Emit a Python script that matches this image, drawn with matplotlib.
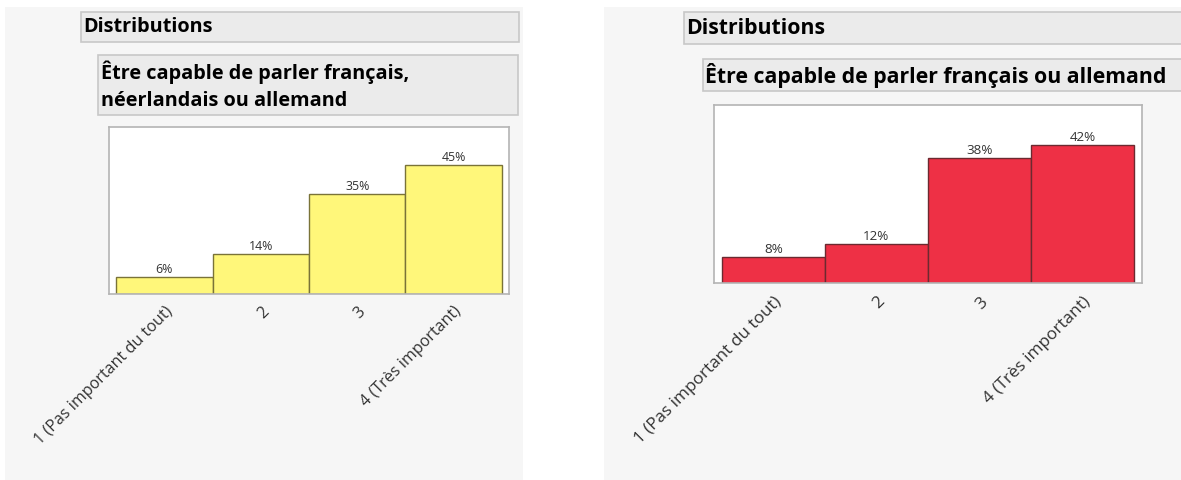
import matplotlib.pyplot as plt
from matplotlib.patches import Rectangle

plt.rcParams['font.family'] = ['Open Sans', 'DejaVu Sans']

# data
categories = ['1 (Pas important du tout)', '2', '3', '4 (Très important)']
left_values = [6, 14, 35, 45]
right_values = [8, 12, 38, 42]
left_title = 'Être capable de parler français,\nnéerlandais ou allemand'
right_title = 'Être capable de parler français ou allemand'
header = 'Distributions'

W, H = 1181, 480
fig = plt.figure(figsize=(W / 100, H / 100), dpi=100)
fig.patch.set_facecolor('white')


def box(x0, y0, x1, y1, fc, ec='none'):
    # rectangle in pixel coords (y from top)
    r = Rectangle((x0 / W, 1 - y1 / H), (x1 - x0) / W, (y1 - y0) / H,
                  transform=fig.transFigure, facecolor=fc, edgecolor=ec,
                  linewidth=1.2, zorder=-5)
    fig.patches.append(r)


def txt(x, y, s, **kw):
    fig.text(x / W, 1 - y / H, s, **kw)


def axes_px(x0, y0, x1, y1):
    ax = fig.add_axes([x0 / W, 1 - y1 / H, (x1 - x0) / W, (y1 - y0) / H])
    ax.set_zorder(5)
    return ax


# gray panels
box(5, 7, 523, 482, '#f6f6f6')
box(604, 7, 1183, 482, '#f6f6f6')

# header boxes
box(81, 12, 519, 42, '#ebebeb', '#c8c8c8')
txt(83, 27, header, fontsize=14.3, fontweight='bold', va='center')
box(684, 12, 1185, 44, '#ebebeb', '#c8c8c8')
txt(686, 28, header, fontsize=15.3, fontweight='bold', va='center')

box(98, 55, 518, 115, '#ebebeb', '#c8c8c8')
txt(101, 86, left_title, fontsize=14.3, fontweight='bold', va='center',
    linespacing=1.45)
box(703, 59, 1185, 91, '#ebebeb', '#c8c8c8')
txt(705, 75, right_title, fontsize=15.3, fontweight='bold', va='center')


def draw(ax, values, color, edge, ymax, fs, pad):
    x = range(len(values))
    ax.bar(x, values, width=1.0, color=color, edgecolor=edge, linewidth=1.0)
    for i, v in enumerate(values):
        ax.text(i, v + 0.3, f'{v}%', ha='center', va='bottom', fontsize=fs - 2.7,
                color='#333333')
    ax.set_xlim(-0.575, 3.575)
    ax.set_ylim(0, ymax)
    ax.set_yticks([])
    ax.set_xticks(list(x))
    ax.set_xticklabels(categories, rotation=45, ha='right',
                       rotation_mode='anchor', fontsize=fs, color='#333333')
    ax.tick_params(axis='x', length=0, pad=pad)
    ax.set_facecolor('white')
    for s in ax.spines.values():
        s.set_color('#b4b4b4')
        s.set_linewidth(1.2)


ax1 = axes_px(109, 127, 509, 294)
draw(ax1, left_values, '#fff77a', '#7a7338', 58.2, 11.6, 7)

ax2 = axes_px(714, 105, 1142, 283)
draw(ax2, right_values, '#ee3045', '#6b2a30', 54.1, 12.3, 8)

plt.savefig('out.png', dpi=100, facecolor=fig.get_facecolor())
